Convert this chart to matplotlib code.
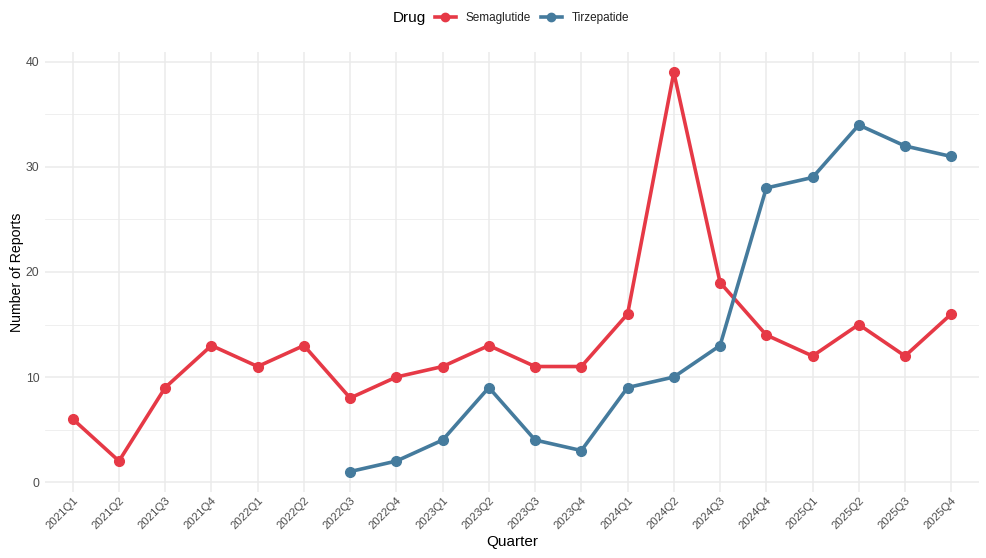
import matplotlib
matplotlib.use("Agg")
import matplotlib.pyplot as plt
from matplotlib.lines import Line2D
from matplotlib.ticker import MultipleLocator

plt.rcParams['font.family'] = ['Liberation Sans', 'DejaVu Sans']

quarters = ["2021Q1", "2021Q2", "2021Q3", "2021Q4", "2022Q1", "2022Q2", "2022Q3", "2022Q4",
            "2023Q1", "2023Q2", "2023Q3", "2023Q4", "2024Q1", "2024Q2", "2024Q3", "2024Q4",
            "2025Q1", "2025Q2", "2025Q3", "2025Q4"]
sema_quarters = quarters
sema_values = [6, 2, 9, 13, 11, 13, 8, 10, 11, 13, 11, 11, 16, 39, 19, 14, 12, 15, 12, 16]
tirz_quarters = quarters[6:]
tirz_values = [1, 2, 4, 9, 4, 3, 9, 10, 13, 28, 29, 34, 32, 31]

c_sema = "#E63946"
c_tirz = "#457B9D"

fig = plt.figure(figsize=(9.86, 5.58), dpi=100)
ax = fig.add_axes([45/986, (558-491.5)/558, (979-45)/986, (491.5-52.5)/558])

xi = {q: i for i, q in enumerate(quarters)}
ax.plot([xi[q] for q in sema_quarters], sema_values, color=c_sema, lw=2.6, marker='o', ms=7,
        solid_capstyle='butt', zorder=3)
ax.plot([xi[q] for q in tirz_quarters], tirz_values, color=c_tirz, lw=2.6, marker='o', ms=7,
        solid_capstyle='butt', zorder=3)

n = len(quarters)
ax.set_xlim(-0.6, n - 1 + 0.6)
ax.set_ylim(1 - 1.9, 39 + 1.9)
ax.set_xticks(range(n))
ax.set_xticklabels(quarters, rotation=45, ha='right', rotation_mode='anchor', fontsize=8.2, color='#4D4D4D')
ax.yaxis.set_major_locator(MultipleLocator(10))
ax.yaxis.set_minor_locator(MultipleLocator(5))
ax.tick_params(axis='y', labelsize=8.8, labelcolor='#4D4D4D', length=0, pad=4)
ax.tick_params(axis='x', length=0, pad=2.5)
ax.tick_params(which='minor', length=0)
ax.grid(True, which='major', color='#EBEBEB', lw=1.1)
ax.grid(True, which='minor', axis='y', color='#EBEBEB', lw=0.55)
ax.set_axisbelow(True)
for s in ax.spines.values():
    s.set_visible(False)

ax.set_xlabel("Quarter", fontsize=11, labelpad=3)
ax.set_ylabel("Number of Reports", fontsize=10.2, labelpad=1)

fig.text(393/986, 1 - 18/558, "Drug", fontsize=11, ha='left', va='center')
handles = [Line2D([0], [0], color=c_sema, lw=2.6, marker='o', ms=6),
           Line2D([0], [0], color=c_tirz, lw=2.6, marker='o', ms=6)]
leg = fig.legend(handles, ["Semaglutide", "Tirzepatide"], ncol=2,
                 loc='center left', bbox_to_anchor=(435/986, 1 - 18/558), frameon=False,
                 fontsize=8.5, handlelength=1.75, handletextpad=0.85,
                 columnspacing=0.85, borderpad=0, borderaxespad=0)
for t in leg.get_texts():
    t.set_color('#222222')

fig.savefig("out.png", dpi=100, facecolor='white')
